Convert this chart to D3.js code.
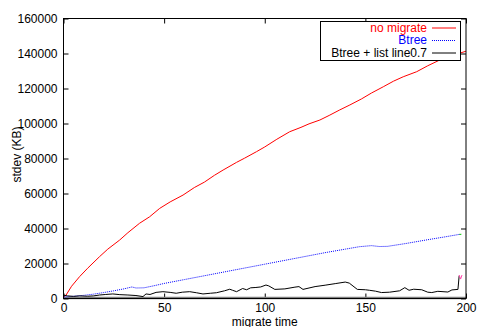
<!DOCTYPE html>
<html>
<head>
<meta charset="utf-8">
<script src="https://cdn.jsdelivr.net/npm/d3@7"></script>
<style>
  html, body { margin: 0; padding: 0; background: #fff; }
  svg { display: block; font-family: "Liberation Sans", Arial, sans-serif; }
</style>
</head>
<body>
<div class="chart"></div>
<script>
// [migrate time, stdev KB]
const noMigrate = [
  [0, 1000], [1.3, 2000], [4, 7000], [8, 12500], [12, 17300], [17.9, 23900], [22, 28200],
  [27.9, 33400], [32, 37600], [37.8, 43000], [42.8, 46700], [47.8, 51500], [53, 55200],
  [59.4, 59100], [65, 63400], [70, 66500], [75, 70400], [79.3, 73400], [86, 77800],
  [90, 80200], [95.9, 83900], [100, 86600], [106, 91000], [112.4, 95300], [118, 97800],
  [122, 99800], [127.4, 102000], [132, 104600], [137, 107600], [142.3, 110600],
  [148, 114000], [153, 117400], [158.9, 121000], [164, 124200], [168.8, 126700],
  [175.5, 129600], [181, 133000], [187, 136300], [193, 138800], [200, 141300]
];

const btree = [
  [0, 800], [5, 1300], [10, 1800], [15, 2500], [20, 3400], [25, 4400], [30, 5500],
  [34, 6600], [36, 6000], [40, 6100], [45, 7300], [50, 8600], [60, 10800], [70, 13000],
  [80, 15200], [90, 17400], [100, 19600], [110, 21800], [120, 24000], [130, 26200],
  [140, 28200], [147, 29600], [153, 30200], [157, 29700], [161, 29800], [170, 31400],
  [180, 33400], [190, 35300], [197, 36700]
];

const btreeList = [
  [0, 1900], [2, 1500], [5, 1200], [8, 1500], [12, 1300], [15, 1500], [17.9, 2000],
  [21, 2300], [24.5, 2600], [28, 2200], [32, 2000], [36, 1700], [39.5, 1100], [41, 2600],
  [43, 2300], [46, 3500], [49.4, 3900], [53, 3500], [56, 3000], [59, 3600], [62.7, 3900],
  [66, 3300], [69.3, 2600], [73, 3000], [76, 3300], [80, 4400], [82.6, 5300], [84, 4700],
  [86, 3900], [89, 5700], [91, 5000], [93, 6100], [95.6, 6300], [98, 6600], [100.6, 7700],
  [102, 7200], [105, 5200], [110, 5500], [115, 6500], [117, 6800], [119, 5200],
  [125, 6800], [130, 7600], [135, 8500], [140, 9400], [142, 8800], [146, 5200], [150, 5000],
  [152, 4700], [155, 4200], [158, 3400], [162, 3600], [167, 4400], [169.6, 6200],
  [171.7, 4700], [174, 5300], [178, 5000], [181, 3600], [183, 3400], [186, 4100],
  [191, 3700], [193, 4900], [196, 5200], [196.6, 13000]
];

const zeroLine = [[0, 300], [200, 300]];
const pinkMark = [[196.6, 13400], [197.3, 11100], [198, 13400]];
const greenMark = [[196.7, 36600], [197.7, 36700]];

const xTicks = [0, 50, 100, 150, 200];
const yTicks = [0, 20000, 40000, 60000, 80000, 100000, 120000, 140000, 160000];

const legendItems = [
  { label: "no migrate", color: "#ff0000", dash: null },
  { label: "Btree", color: "#0000ff", dash: "1,1" },
  { label: "Btree + list line0.7", color: "#000000", dash: null }
];

const width = 477;
const height = 327;
const plotLeft = 63.5, plotRight = 466, plotTop = 18.5, plotBottom = 298.5;
const tickLen = 5;

const svg = d3.select(".chart").append("svg")
  .attr("width", width)
  .attr("height", height);

svg.append("rect").attr("width", width).attr("height", height).attr("fill", "#fff");

const x = d3.scaleLinear().domain([0, 200]).range([plotLeft, plotRight]);
const y = d3.scaleLinear().domain([0, 160000]).range([plotBottom, plotTop]);

// axes with inward ticks on all four sides
const axisFont = (g) => g.selectAll("text")
  .attr("font-size", "12px")
  .attr("fill", "#000")
  .attr("font-family", "'Liberation Sans', Arial, sans-serif");

svg.append("g")
  .attr("transform", `translate(0, ${plotBottom})`)
  .call(d3.axisBottom(x).tickValues(xTicks).tickSize(-tickLen).tickPadding(5).tickFormat(d3.format("d")))
  .call((g) => g.select(".domain").remove())
  .call(axisFont);

svg.append("g")
  .attr("transform", `translate(0, ${plotTop})`)
  .call(d3.axisTop(x).tickValues(xTicks).tickSize(-tickLen).tickFormat(""))
  .call((g) => g.select(".domain").remove());

svg.append("g")
  .attr("transform", `translate(${plotLeft}, 0)`)
  .call(d3.axisLeft(y).tickValues(yTicks).tickSize(-tickLen).tickPadding(6).tickFormat(d3.format("d")))
  .call((g) => g.select(".domain").remove())
  .call(axisFont);

svg.append("g")
  .attr("transform", `translate(${plotRight}, 0)`)
  .call(d3.axisRight(y).tickValues(yTicks).tickSize(-tickLen).tickFormat(""))
  .call((g) => g.select(".domain").remove());

svg.selectAll(".tick line").attr("stroke", "#000");

// axis labels
svg.append("text")
  .attr("x", (plotLeft + plotRight) / 2)
  .attr("y", 326)
  .attr("text-anchor", "middle")
  .attr("font-size", "12px")
  .text("migrate time");

svg.append("text")
  .attr("transform", `translate(21, ${(plotTop + plotBottom) / 2 - 4}) rotate(-90)`)
  .attr("text-anchor", "middle")
  .attr("font-size", "12px")
  .text("stdev (KB)");

// series
const line = d3.line().x((d) => x(d[0])).y((d) => y(d[1]));

const plot = svg.append("g");

plot.append("path").datum(zeroLine)
  .attr("d", line).attr("fill", "none")
  .attr("stroke", "#808080").attr("stroke-width", 2.5);

plot.append("path").datum(noMigrate)
  .attr("d", line).attr("fill", "none")
  .attr("stroke", "#ff0000").attr("stroke-width", 1);

plot.append("path").datum(btree)
  .attr("d", line).attr("fill", "none")
  .attr("stroke", "#0000ff").attr("stroke-width", 1)
  .attr("stroke-dasharray", "1,1");

plot.append("path").datum(btreeList)
  .attr("d", line).attr("fill", "none")
  .attr("stroke", "#000").attr("stroke-width", 1);

plot.append("path").datum(pinkMark)
  .attr("d", line).attr("fill", "none")
  .attr("stroke", "#ff44aa").attr("stroke-width", 1);

plot.append("path").datum(greenMark)
  .attr("d", line).attr("fill", "none")
  .attr("stroke", "#00cc00").attr("stroke-width", 1);

// frame
svg.append("rect")
  .attr("x", plotLeft).attr("y", plotTop)
  .attr("width", plotRight - plotLeft).attr("height", plotBottom - plotTop)
  .attr("fill", "none").attr("stroke", "#000").attr("stroke-width", 1);

// legend
const legend = svg.append("g");
legend.append("rect")
  .attr("x", 320.5).attr("y", 21.5)
  .attr("width", 140).attr("height", 39)
  .attr("fill", "#fff").attr("stroke", "#000").attr("stroke-width", 1);

const rows = legend.selectAll(".row")
  .data(legendItems)
  .join("g")
  .attr("class", "row")
  .attr("transform", (_d, i) => `translate(0, ${27.5 + i * 12.5})`);

rows.append("text")
  .attr("x", 427)
  .attr("dy", "0.35em")
  .attr("text-anchor", "end")
  .attr("font-size", "12px")
  .attr("fill", (d) => d.color)
  .text((d) => d.label);

rows.append("line")
  .attr("x1", 432).attr("x2", 456)
  .attr("y1", 0.5).attr("y2", 0.5)
  .attr("stroke", (d) => d.color)
  .attr("stroke-width", 1)
  .attr("stroke-dasharray", (d) => d.dash);
</script>
</body>
</html>
